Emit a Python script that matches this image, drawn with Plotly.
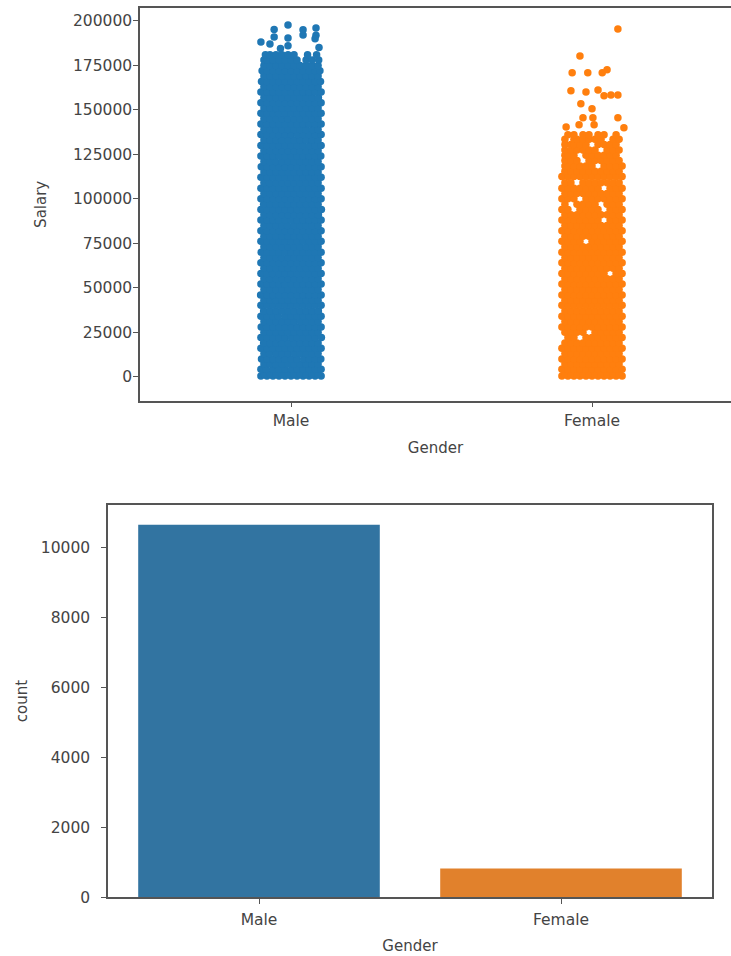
import plotly.graph_objects as go

genders = ["Male", "Female"]
counts = [10657, 829]
salary_ticks = [0, 25000, 50000, 75000, 100000, 125000, 150000, 175000, 200000]
count_ticks = [0, 2000, 4000, 6000, 8000, 10000]

# Salary read row by row; jitter is the strip offset in hundredths of a category
male_rows = [
 (400,[-10,-8,-6,-4,-2,0,2,4,6,8,10]),(1500,[-9,-7,-5,-3,-1,1,3,5,7,9]),
 (4200,[-10,-8.2,-6,-4.1,-2,0.2,2,4,6.1,8,10]),(7100,[-9,-7,-5.1,-3,-1,1,3.1,5,7,9]),
 (10000,[-9.8,-8,-6,-4,-2.1,0,2,4.2,6,8,9.9]),(13100,[-9,-7.1,-5,-3,-1,1.1,3,5,7,9]),
 (16000,[-10,-8,-6.1,-4,-2,0,2.1,4,6,8.1,10]),(18900,[-9.1,-7,-5,-3.1,-1,1,3,5.1,7,9]),
 (22000,[-10,-8,-6,-4,-2,0.1,2,4,6,8,10.1]),(25000,[-9,-7,-5,-3,-1.1,1,3,5,7.1,9]),
 (27900,[-9.9,-8.1,-6,-4,-2,0,2,4.1,6,8,10]),(31100,[-9,-7,-5,-3,-1,1,3.1,5,7,9]),
 (34000,[-10,-8,-6,-4.2,-2,0,2,4,6.1,8,10]),(37000,[-9.1,-7,-5,-3,-1,1,3,5,7,9.1]),
 (40100,[-10,-8,-6,-4,-2,0,2,4,6,8,10]),(43000,[-9,-7,-5.1,-3,-1,1,3,5.1,7,9]),
 (45900,[-10.1,-8,-6,-4,-2,0,2.1,4,6,8,10]),(49000,[-9,-7,-5,-3,-1,1,3,5,7,9]),
 (52100,[-10,-8,-6,-4,-2.1,0,2,4,6,8.1,10]),(55000,[-9,-7.1,-5,-3,-1,1,3,5,7,9]),
 (58000,[-10,-8,-6.1,-4,-2,0,2,4,6,8,10]),(61000,[-9,-7,-5,-3,-1,1.1,3,5,7,9]),
 (64100,[-10,-8,-6,-4,-2,0,2,4,6.1,8,10]),(67000,[-9,-7,-5,-3.1,-1,1,3,5,7,9]),
 (69900,[-9.9,-8,-6,-4,-2,0,2,4,6,8,10]),(73000,[-9,-7,-5,-3,-1,1,3,5.1,7,9]),
 (76100,[-10,-8,-6,-4,-2,0.1,2,4,6,8,10]),(79000,[-9,-7,-5,-3,-1,1,3,5,7.1,9]),
 (82000,[-10,-8.1,-6,-4,-2,0,2,4,6,8,10]),(85000,[-9,-7,-5,-3,-1.1,1,3,5,7,9]),
 (88100,[-10,-8,-6,-4.1,-2,0,2,4,6,8,10]),(91000,[-9,-7,-5,-3,-1,1,3,5,7,9.1]),
 (94000,[-10,-8,-6,-4,-2,0,2.1,4,6,8,10.1]),(97000,[-9.1,-7,-5,-3,-1,1,3,5,7,9]),
 (100100,[-10,-8,-6,-4,-2,0,2,4,6,8.1,10]),(103000,[-9,-7,-5,-3,-1,1,3.1,5,7,9]),
 (106000,[-10,-8,-6.1,-4,-2,0,2,4,6,8,10]),(109000,[-9,-7.1,-5,-3,-1,1,3,5,7,9]),
 (112100,[-10,-8,-6,-4,-2,0,2,4.1,6,8,10]),(115000,[-9,-7,-5,-3,-1,1,3,5,7,9]),
 (118000,[-9.9,-8,-6,-4,-2.1,0,2,4,6,8,10]),(121000,[-9,-7,-5.1,-3,-1,1,3,5,7,9]),
 (124100,[-10,-8,-6,-4,-2,0,2,4,6,8,9.9]),(127000,[-9,-7,-5,-3,-1,1.1,3,5,7,9]),
 (130000,[-10,-8,-6,-4,-2,0,2,4,6.1,8,10]),(133000,[-9,-7,-5,-3.1,-1,1,3,5,7,9]),
 (136100,[-10,-8,-6,-4,-2,0,2.1,4,6,8,10]),(139000,[-9,-7,-5,-3,-1,1,3,5,7.1,9]),
 (142000,[-10,-8.1,-6,-4,-2,0,2,4,6,8,10]),(145000,[-9,-7,-5,-3,-1.1,1,3,5,7,9]),
 (148100,[-10,-8,-6,-4.1,-2,0,2,4,6,8,10]),(151000,[-9,-7,-5,-3,-1,1,3,5.1,7,9]),
 (154000,[-10,-8,-6,-4,-2,0.1,2,4,6,8,10]),(157000,[-9,-7,-5,-3,-1,1,3,5,7,9.1]),
 (160100,[-10,-8,-6,-4,-2,0,2,4,6,8.1,10]),(163000,[-9,-7,-5,-3,-1,1,3,5,7,9]),
 (166000,[-9.8,-8,-6,-4,-2,0,2,4,6,8,9.8]),(169000,[-9,-7,-5,-3,-1,1,3,5,7,9]),
 (172000,[-9.6,-8,-6,-4,-2,0,2,4,6,8,9.6]),(175000,[-9,-7,-5,-3,-1,1,3,5,7,9]),
 (178000,[-9,-8,-6,-4,-2,0,2,5,7,9.2]),(181000,[-8.5,-7,-5,-3,-1,1,5.5,8.5]),
]
male_top_salary = [197700,195200,196000,188200,191000,190400,192100,185000,195000,192000,187000,186000,184500,190000]
male_top_jitter = [-1,-5.6,8.3,-10,-5.6,-1,4,9.3,4,8.3,-7,-1,-3.5,8]

female_rows = [
 (400,[-10,-8,-6,-4,-2,0,2,4,6,8,10]),(1500,[-9,-7,-5,-3,-1,1,3,5,7,9]),
 (4200,[-10,-8,-6,-4,-2,0,2,4,6,8,10]),(7100,[-9,-7,-5,-3,-1,1,3,5,7,9]),
 (10000,[-10,-8,-6,-4,-2,0,2,4,6,8,10]),(13100,[-9,-7,-5,-3,-1,1,3,5,7,9]),
 (16000,[-10,-8,-6,-4,-2,0,2,4,6,8,10]),(18900,[-9,-7,-5,-3,-1,1,3,5,7,9]),
 (22000,[-8,-6,-2,0,2,4,6,8,10]),(25000,[-9,-7,-5,-3,1,3,5,7,9]),
 (27900,[-10,-8,-6,-4,-2,0,2,4,6,8,10]),(31100,[-9,-7,-5,-3,-1,1,3,5,7,9]),
 (34000,[-10,-8,-6,-4,-2,0,2,4,6,8,10]),(37000,[-9,-7,-5,-3,-1,1,3,5,7,9]),
 (40100,[-10,-8,-6,-4,-2,0,2,4,6,8,10]),(43000,[-9,-7,-5,-3,-1,1,3,5,7,9]),
 (45900,[-10,-8,-6,-4,-2,0,2,4,6,8,10]),(49000,[-9,-7,-5,-3,-1,1,3,5,7,9]),
 (52100,[-10,-8,-6,-4,-2,0,2,4,6,8,10]),(55000,[-9,-7,-5,-3,-1,1,3,5,7,9]),
 (58000,[-10,-8,-6,-4,-2,0,2,4,8,10]),(61000,[-9,-7,-5,-3,-1,1,3,5,7,9]),
 (64100,[-10,-8,-6,-4,-2,0,2,4,6,8,10]),(67000,[-9,-7,-5,-3,-1,1,3,5,7,9]),
 (69900,[-10,-8,-6,-4,-2,0,2,4,6,8,10]),(73000,[-9,-7,-5,-3,-1,1,3,5,7,9]),
 (76100,[-10,-8,-6,-4,0,2,4,6,8,10]),(79000,[-9,-7,-5,-3,-1,1,3,5,7,9]),
 (82000,[-10,-8,-6,-4,-2,0,2,4,6,8,10]),(85000,[-9,-7,-5,-3,-1,1,3,5,7,9]),
 (88100,[-10,-8,-6,-4,-2,0,2,6,8,10]),(91000,[-9,-7,-5,-3,-1,1,3,5,7,9]),
 (94000,[-10,-8,-4,-2,0,2,6,8,10]),(97000,[-9,-5,-3,-1,1,5,7,9]),
 (100100,[-10,-8,-6,-2,0,2,4,6,8,10]),(103000,[-9,-7,-5,-3,-1,1,3,5,7,9]),
 (106000,[-10,-8,-6,-4,-2,0,2,6,8,10]),(109000,[-9,-7,-3,-1,1,3,5,7,9]),
 (112500,[-10,-8,-6,-4,-2,0,2,4,6,8,10]),(115500,[-9,-7,-5,-3,-1,1,3,5,7,9]),
 (118500,[-9,-8,-6,-4,-2,0,4,6,8,10]),(121500,[-9,-7,-5,-1,1,3,5,7,9]),
 (124500,[-9,-8,-6,-2,0,2,4,6,8]),(127500,[-9,-7,-5,-3,-1,1,5,7,9]),
 (130500,[-9,-7,-6,-4,-2,2,4,6,8]),(133500,[-9,-6,-5,-3,-1,1,3,7,9]),
 (136000,[-8,-6,-3,-1,2,4,8]),
]
female_top_salary = [195500,180300,170800,170800,170800,172500,160700,160100,161200,157900,158400,158400,153400,150600,145500,145500,145500,141600,141600,140400,139900]
female_top_jitter = [8.6,-4,-6.6,-1.4,3.4,5,-7,-2,2,4,6.3,8.6,-3.7,0,-3,0.3,8.6,-4.3,0.7,-8.6,10.6]

male_x = [j / 100 for s, row in male_rows for j in row] + [j / 100 for j in male_top_jitter]
male_y = [s for s, row in male_rows for j in row] + male_top_salary
female_x = [1 + j / 100 for s, row in female_rows for j in row] + [1 + j / 100 for j in female_top_jitter]
female_y = [s for s, row in female_rows for j in row] + female_top_salary

W, H = 731, 956
SPINE = "#555555"
TEXT = "#444444"
FONT = "DejaVu Sans"

fig = go.Figure()
fig.add_trace(go.Scatter(x=male_x, y=male_y, mode="markers", xaxis="x", yaxis="y",
                         marker=dict(color="#1f77b4", size=7.5, line=dict(width=0))))
fig.add_trace(go.Scatter(x=female_x, y=female_y, mode="markers", xaxis="x", yaxis="y",
                         marker=dict(color="#ff7f0e", size=7.5, line=dict(width=0))))
fig.add_trace(go.Bar(x=genders, y=counts, xaxis="x2", yaxis="y2", width=0.8,
                     marker=dict(color=["#3274a1", "#e1812c"], line=dict(width=0))))

axis_common = dict(showgrid=False, zeroline=False, showline=True, mirror=True,
                   linecolor=SPINE, linewidth=1.5, ticks="outside", ticklen=5,
                   tickwidth=1.2, tickcolor=SPINE, tickformat="d",
                   tickfont=dict(family=FONT, size=15.5, color=TEXT))
title_font = dict(family=FONT, size=15, color=TEXT)

fig.update_layout(
    width=W, height=H, margin=dict(l=0, r=0, t=0, b=0),
    paper_bgcolor="white", plot_bgcolor="white", showlegend=False,
    xaxis=dict(axis_common, domain=[140 / W, 1], range=[-0.5017, 1.4618], tickvals=[0, 1], ticktext=genders,
               anchor="y", title=dict(text="Gender", font=title_font, standoff=13)),
    yaxis=dict(axis_common, domain=[1 - 404.5 / H, 1 - 8 / H], range=[-13480, 207300], tickvals=salary_ticks,
               anchor="x", mirror=False, ticklabelstandoff=-2,
               title=dict(text="Salary", font=title_font, standoff=23)),
    xaxis2=dict(axis_common, domain=[108 / W, 712 / W], range=[-0.5, 1.5], anchor="y2", type="category",
                ticklabelstandoff=2, title=dict(text="Gender", font=title_font, standoff=13)),
    yaxis2=dict(axis_common, domain=[1 - 906 / H, 1 - 509.5 / H], range=[0, 11228], tickvals=count_ticks,
                anchor="x2", ticklabelstandoff=8, title=dict(text="count", font=title_font, standoff=10)),
)

fig.write_html("out.html", config={"displayModeBar": False},
               post_script="document.body.style.margin='0';document.documentElement.style.overflow='hidden';")
